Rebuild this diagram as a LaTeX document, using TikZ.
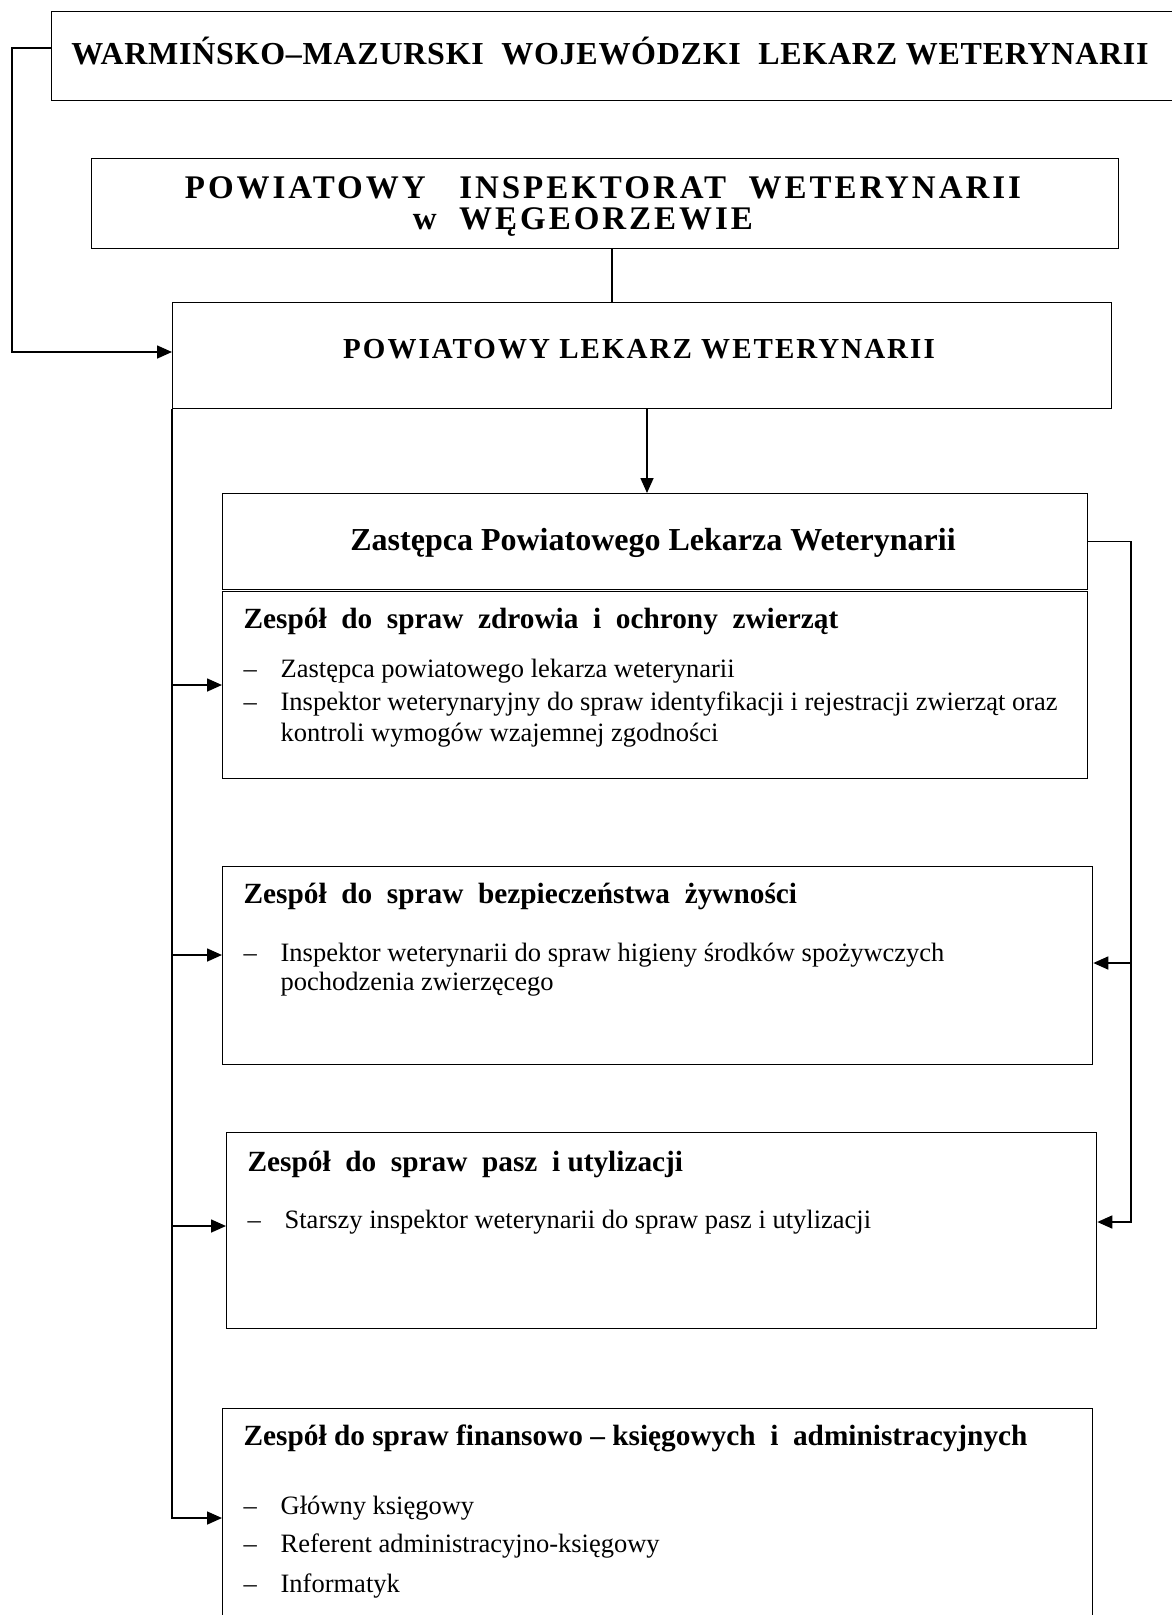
\documentclass[tikz,border=0pt]{standalone}
\usepackage{fontspec}
\setmainfont{Liberation Serif}
\newfontfamily\rozstrzel[LetterSpace=2.3]{Liberation Serif}
\newfontfamily\szeroki[LetterSpace=9]{Liberation Serif}
\newfontfamily\srednio[LetterSpace=7]{Liberation Serif}
\usetikzlibrary{arrows.meta}

\begin{document}
\begin{tikzpicture}[x=1pt, y=-1pt, line width=1.3pt,
	ramka/.style={draw, inner sep=0pt, anchor=north west},
	tytul/.style={anchor=base, inner sep=0pt, font=\rozstrzel\bfseries\fontsize{32}{36}\selectfont},
	naglowek/.style={anchor=base west, inner sep=0pt, font=\bfseries\fontsize{29.3}{32}\selectfont},
	pozycja/.style={anchor=base west, inner sep=0pt, font=\fontsize{26.5}{30}\selectfont},
	strzalka/.style={line width=1.6pt, -{Triangle[length=15pt,width=13pt]}}]
				\useasboundingbox (0,0) rectangle (1171,1615);
				% ramki
				\node[ramka, minimum width=1140pt, minimum height=89pt] (wmw) at (51,11) {};
				\node[ramka, minimum width=1027pt, minimum height=90pt] (piw) at (91,158) {};
				\node[ramka, minimum width=939pt, minimum height=106pt] (plw) at (172,302) {};
				\node[ramka, minimum width=865pt, minimum height=96pt] (zast) at (222,493) {};
				\node[ramka, minimum width=865pt, minimum height=187pt] (z1) at (222,591) {};
				\node[ramka, minimum width=870pt, minimum height=198pt] (z2) at (222,866) {};
				\node[ramka, minimum width=870pt, minimum height=196pt] (z3) at (226,1132) {};
				\node[ramka, minimum width=870pt, minimum height=240pt] (z4) at (222,1408) {};
				% tytuly
				\node[tytul] (t_wmw) at (610,64) {WARMIŃSKO–MAZURSKI~~WOJEWÓDZKI~~LEKARZ WETERYNARII};
				\node[tytul, font=\szeroki\bfseries\fontsize{33}{36}\selectfont] (t_piw) at (603,198) {POWIATOWY~~~INSPEKTORAT~~WETERYNARII};
				\node[tytul, font=\szeroki\bfseries\fontsize{33}{36}\selectfont] (t_weg) at (583,229) {w~~WĘGEORZEWIE};
				\node[tytul, font=\srednio\bfseries\fontsize{29}{32}\selectfont] (t_plw) at (639,358) {POWIATOWY~LEKARZ~WETERYNARII};
				\node[anchor=base, inner sep=0pt, font=\bfseries\fontsize{32}{34}\selectfont] (t_zast) at (653,550) {Zastępca Powiatowego Lekarza Weterynarii};
				% zespoly
				\node[naglowek] (h1) at (243,628) {Zespół~~do~~spraw~~zdrowia~~i~~ochrony~~zwierząt};
				\node[pozycja] (p11) at (243,677) {\makebox[37pt][l]{–}Zastępca powiatowego lekarza weterynarii};
				\node[pozycja] (p12) at (243,710) {\makebox[37pt][l]{–}Inspektor weterynaryjny do spraw identyfikacji i rejestracji zwierząt oraz};
				\node[pozycja] (p13) at (280,741) {kontroli wymogów wzajemnej zgodności};
				\node[naglowek] (h2) at (243,903) {Zespół~~do~~spraw~~bezpieczeństwa~~żywności};
				\node[pozycja] (p21) at (243,961) {\makebox[37pt][l]{–}Inspektor weterynarii do spraw higieny środków spożywczych};
				\node[pozycja] (p22) at (280,990) {pochodzenia zwierzęcego};
				\node[naglowek] (h3) at (247,1171) {Zespół~~do~~spraw~~pasz~~i utylizacji};
				\node[pozycja] (p31) at (247,1228) {\makebox[37pt][l]{–}Starszy inspektor weterynarii do spraw pasz i utylizacji};
				\node[naglowek] (h4) at (243,1445) {Zespół do spraw finansowo – księgowych~~i~~administracyjnych};
				\node[pozycja] (p41) at (243,1514) {\makebox[37pt][l]{–}Główny księgowy};
				\node[pozycja] (p42) at (243,1552) {\makebox[37pt][l]{–}Referent administracyjno-księgowy};
				\node[pozycja] (p43) at (243,1592) {\makebox[37pt][l]{–}Informatyk};
				% polaczenia
				\coordinate (wl) at (12,48);
				\coordinate (pl) at (12,352);
				\coordinate (srodek) at (612,275);
				\coordinate (dol) at (647,450);
				\coordinate (r2) at (1131,963);
				\coordinate (r3) at (1131,1222);
				\draw[strzalka] (wmw.west |- wl) -| (pl) -- (plw.west |- pl);
				\draw (piw.south -| srodek) -- (plw.north -| srodek);
				\draw[strzalka] (plw.south -| dol) -- (zast.north -| dol);
				\foreach \z/\y in {z1/685, z2/955, z3/1226} {
					\draw[strzalka] (plw.south west |- 0,\y) -- (\z.west |- 0,\y);
				}
				\draw[strzalka] (plw.south west) |- (z4.west |- 0,1518);
				\draw[strzalka] (zast.east) -| (r3) -- (z3.east |- r3);
				\draw[strzalka] (r2) -- (z2.east |- r2);
			\end{tikzpicture}
\end{document}
